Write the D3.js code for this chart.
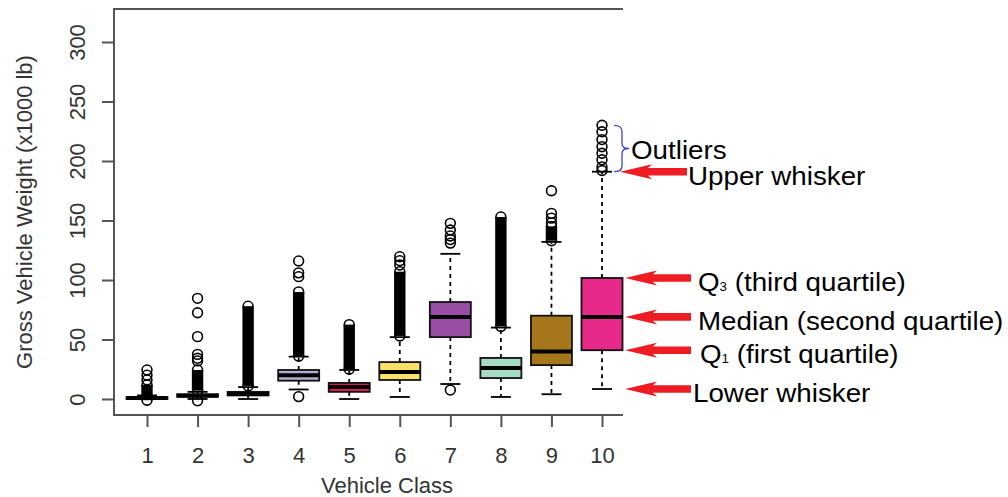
<!DOCTYPE html>
<html>
<head>
<meta charset="utf-8">
<script src="https://cdn.jsdelivr.net/npm/d3@7/dist/d3.min.js"></script>
<style>
  body { margin: 0; background: #fff; }
  text { font-family: "Liberation Sans", Arial, sans-serif; }
</style>
</head>
<body>
<div id="chart-area"></div>
<script>
// box statistics per vehicle class (x1000 lb)
var classes   = ["1", "2", "3", "4", "5", "6", "7", "8", "9", "10"];
var whiskerLo = [0,   0,   0,   8,    0,    1.7,  12.6, 1.7,  4,    8.4];
var q1        = [0,   2,   3,   15.4, 6,    16,   52,   17.6, 28.5, 41];
var medians   = [0.8, 2.8, 4.3, 20,   10,   22.7, 69,   26,   40,   69];
var q3        = [1.5, 4,   6,   24.4, 13.5, 31,   81.5, 34.5, 70,   101.7];
var whiskerHi = [3,   6,   10,  35.6, 24.4, 52,   122,  60,   132,  191];
var boxColors = ["#1b9e77", "#d95f02", "#7570b3", "#b4acd0", "#e3175f",
                 "#f7e36a", "#984ea3", "#a4dcc5", "#a6761d", "#e7298a"];

// single outliers that can be told apart
var outliers = [
  [16, 20, 24.4],
  [-1.5, 32, 34.2, 37.5, 52.4, 72.5, 84.6],
  [],
  [2, 102.8, 106, 116],
  [],
  [112.6, 116.2, 119.6],
  [7.5, 131, 134, 137, 142, 147.6],
  [],
  [148, 152, 156, 175],
  [192, 195, 201, 206.5, 212, 218, 224.6, 230]
];
// runs where the outlier circles pile up into a solid column [from, to]
var denseRuns = [
  [[-1, 11.8]], [[7, 24.4]], [[11, 78]], [[36, 90]], [[25, 62.5]],
  [[53, 107]], [], [[61, 153]], [[133, 145]], []
];

var yTicks = [0, 50, 100, 150, 200, 250, 300];

// annotations point at the stats of the last box
var noteNames = ["Upper whisker", "Q3", "Median (second quartile)", "Q1", "Lower whisker"];
var noteStats = [whiskerHi[9], q3[9], medians[9], q1[9], whiskerLo[9]];

var width = 1008, height = 497;
var svg = d3.select("#chart-area").append("svg")
    .attr("width", width)
    .attr("height", height);

var plotLeft = 114, plotRight = 623, plotTop = 9, plotBottom = 415;

var x = d3.scalePoint().domain(classes).range([147, 602]);
var y = d3.scaleLinear().domain([0, 300]).range([399, 42]);
var boxW = 41, stapleW = 20, r = 4.9;

// frame: left, top and bottom edges
svg.append("path")
    .attr("d", "M" + plotRight + "," + plotTop + "H" + plotLeft + "V" + plotBottom + "H" + plotRight)
    .attr("fill", "none")
    .attr("stroke", "#555")
    .attr("stroke-width", 2);

// Y axis
var yAxis = svg.append("g")
    .attr("transform", "translate(" + plotLeft + ",0)")
    .call(d3.axisLeft(y).tickValues(yTicks).tickSize(12).tickSizeOuter(0));
yAxis.select(".domain").remove();
yAxis.selectAll(".tick line").attr("stroke", "#555").attr("stroke-width", 2);
yAxis.selectAll(".tick text")
    .attr("x", null).attr("dy", null)
    .attr("transform", "translate(-29,0) rotate(-90)")
    .attr("text-anchor", "middle")
    .attr("fill", "#333")
    .style("font-size", "22px");

// X axis
var xAxis = svg.append("g")
    .attr("transform", "translate(0," + plotBottom + ")")
    .call(d3.axisBottom(x).tickSize(12).tickSizeOuter(0));
xAxis.select(".domain").remove();
xAxis.selectAll(".tick line").attr("stroke", "#555").attr("stroke-width", 2);
xAxis.selectAll(".tick text")
    .attr("y", 48).attr("dy", null)
    .attr("fill", "#333")
    .style("font-size", "22px");

// axis titles
svg.append("text")
    .attr("transform", "translate(32,212) rotate(-90)")
    .attr("text-anchor", "middle")
    .attr("fill", "#333")
    .style("font-size", "22px")
    .text("Gross Vehicle Weight (x1000 lb)");
svg.append("text")
    .attr("x", 387).attr("y", 493)
    .attr("text-anchor", "middle")
    .attr("fill", "#333")
    .style("font-size", "22px")
    .text("Vehicle Class");

// boxes
var boxes = svg.selectAll(".box").data(classes).enter()
    .append("g").attr("class", "box")
    .attr("transform", function(d) { return "translate(" + x(d) + ",0)"; });

boxes.append("line")
    .attr("y1", function(d, i) { return y(q3[i]); })
    .attr("y2", function(d, i) { return y(whiskerHi[i]); })
    .attr("stroke", "#000").attr("stroke-width", 1.8).attr("stroke-dasharray", "4,4");
boxes.append("line")
    .attr("y1", function(d, i) { return y(q1[i]); })
    .attr("y2", function(d, i) { return y(whiskerLo[i]); })
    .attr("stroke", "#000").attr("stroke-width", 1.8).attr("stroke-dasharray", "4,4");
[whiskerHi, whiskerLo].forEach(function(arr) {
  boxes.append("line")
      .attr("x1", -stapleW / 2).attr("x2", stapleW / 2)
      .attr("y1", function(d, i) { return y(arr[i]); })
      .attr("y2", function(d, i) { return y(arr[i]); })
      .attr("stroke", "#000").attr("stroke-width", 1.8);
});
boxes.append("rect")
    .attr("x", -boxW / 2).attr("width", boxW)
    .attr("y", function(d, i) { return y(q3[i]); })
    .attr("height", function(d, i) { return y(q1[i]) - y(q3[i]); })
    .attr("fill", function(d, i) { return boxColors[i]; })
    .attr("stroke", "#111").attr("stroke-width", 1.8);
boxes.append("line")
    .attr("x1", -boxW / 2).attr("x2", boxW / 2)
    .attr("y1", function(d, i) { return y(medians[i]); })
    .attr("y2", function(d, i) { return y(medians[i]); })
    .attr("stroke", "#000").attr("stroke-width", 4);

// dense outlier columns
boxes.each(function(d, i) {
  var g = d3.select(this);
  denseRuns[i].forEach(function(run) {
    g.append("line")
        .attr("y1", y(run[0])).attr("y2", y(run[1]))
        .attr("stroke", "#000").attr("stroke-width", 2 * r + 1.6);
    g.selectAll(null).data(run).enter().append("circle")
        .attr("cy", function(v) { return y(v); })
        .attr("r", r)
        .attr("fill", "none").attr("stroke", "#000").attr("stroke-width", 1.6);
  });
  g.selectAll(".out").data(outliers[i]).enter().append("circle")
      .attr("class", "out")
      .attr("cy", function(v) { return y(v); })
      .attr("r", r)
      .attr("fill", "none").attr("stroke", "#000").attr("stroke-width", 1.6);
});

// annotations
var red = "#ee1d24";
var noteG = svg.append("g");
noteNames.forEach(function(name, i) {
  var ay = y(noteStats[i]);
  var tip = i === 0 ? 620 : 625;
  var end = i === 0 ? 687 : 691;
  noteG.append("path")
      .attr("d", "M" + tip + "," + ay +
        "L" + (tip + 32) + "," + (ay - 7.5) +
        "L" + (tip + 28) + "," + (ay - 3.8) +
        "L" + end + "," + (ay - 3.8) +
        "L" + end + "," + (ay + 3.8) +
        "L" + (tip + 28) + "," + (ay + 3.8) +
        "L" + (tip + 32) + "," + (ay + 7.5) + "Z")
      .attr("fill", red);
  var tx = [688, 698, 698, 700, 693][i];
  var t = noteG.append("text")
      .attr("transform", "translate(" + tx + "," + (ay + 13) + ") scale(1.11,1)")
      .attr("fill", "#000")
      .style("font-size", "25px");
  if (name === "Q3" || name === "Q1") {
    t.append("tspan").text("Q");
    t.append("tspan").style("font-size", "12px").text(name.charAt(1));
    t.append("tspan").text(name === "Q3" ? " (third quartile)" : " (first quartile)");
  } else {
    t.text(name);
  }
});

// outlier brace and label
var bTop = y(outliers[9][outliers[9].length - 1]), bBot = y(whiskerHi[9]);
var bMid = (bTop + bBot) / 2;
noteG.append("path")
    .attr("d", "M614," + bTop + "Q622," + bTop + " 622," + (bTop + 6) +
      "L622," + (bMid - 5) + "Q622," + bMid + " 629," + bMid +
      "Q622," + bMid + " 622," + (bMid + 5) +
      "L622," + (bBot - 6) + "Q622," + bBot + " 614," + bBot)
    .attr("fill", "none").attr("stroke", "#3a44d8").attr("stroke-width", 1.3);
noteG.append("text")
    .attr("transform", "translate(631," + (bMid + 10) + ") scale(1.11,1)")
    .style("font-size", "25px")
    .text("Outliers");
</script>
</body>
</html>
